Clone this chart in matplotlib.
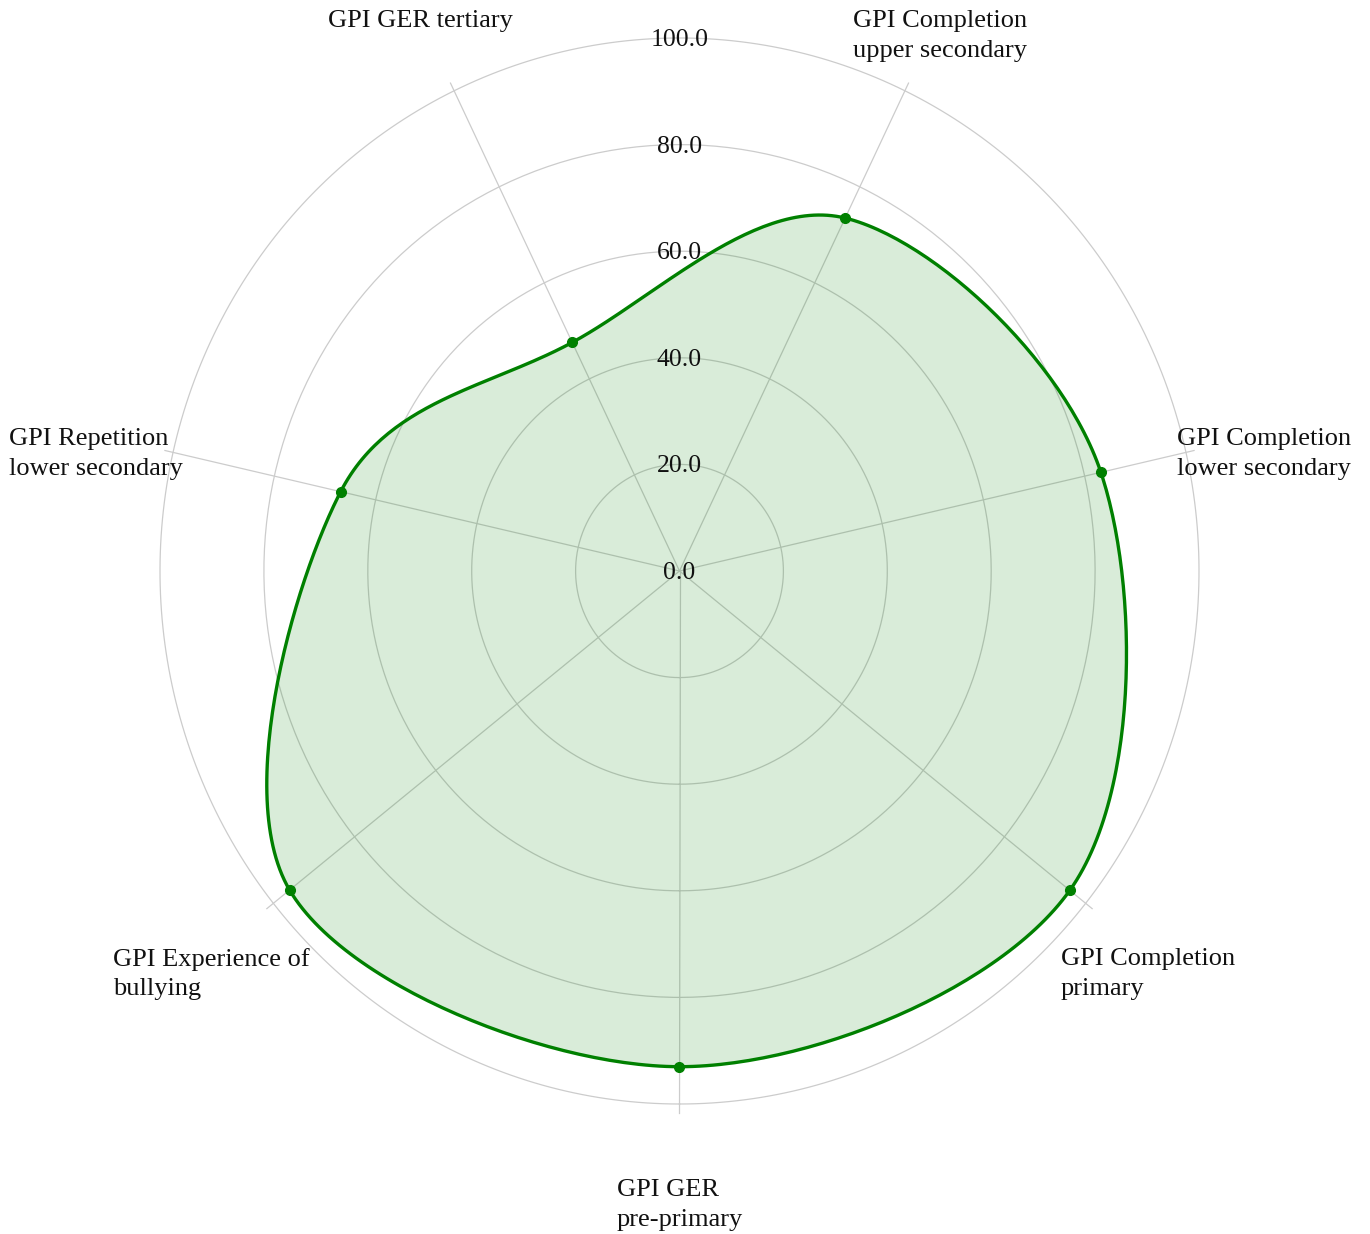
import numpy as np
import matplotlib
matplotlib.use("Agg")
import matplotlib.pyplot as plt
from matplotlib.transforms import offset_copy

# ---- data ----
categories = ["GPI GER\npre-primary", "GPI Completion\nprimary", "GPI Completion\nlower secondary",
              "GPI Completion\nupper secondary", "GPI GER tertiary", "GPI Repetition\nlower secondary",
              "GPI Experience of\nbullying"]
values = [93.0, 96.1, 83.2, 73.5, 47.6, 66.9, 96.0]
rticks = [0, 20, 40, 60, 80, 100]
rtick_labels = ["0.0", "20.0", "40.0", "60.0", "80.0", "100.0"]

# ---- layout (pixel anchors for category labels: left x, centre y) ----
label_pos = [(617, 1205), (1061, 974), (1177, 454), (853, 36), (328, 21), (9, 454), (113, 974)]

W, H = 1370, 1234
fig = plt.figure(figsize=(W / 100, H / 100), dpi=100)
cx, cy, RX, RY = 679.5, 571, 519.5, 533
ax = fig.add_axes([(cx - RX) / W, (H - cy - RY) / H, 2 * RX / W, 2 * RY / H], projection="polar")
ax.set_aspect("auto")
ax.set_theta_zero_location("S")
ax.set_theta_direction(1)
ax.set_ylim(0, 100)
ax.axis("off")

n = len(categories)
angles = np.arange(n) * 2 * np.pi / n

grid_c = "#cccccc"
tt = np.linspace(0, 2 * np.pi, 400)
for r in rticks[1:]:
    ax.plot(tt, np.full_like(tt, r), color=grid_c, lw=0.9, zorder=1, clip_on=False)
for a in angles:
    ax.plot([a, a], [0, 101.6], color=grid_c, lw=0.9, zorder=1, clip_on=False)

# closed cardinal (Catmull-Rom) spline in Cartesian space
px = np.array(values) * np.cos(angles)
py = np.array(values) * np.sin(angles)
P = np.stack([px, py], axis=1)
k = 1.0 / 6.0
seg = []
s = np.linspace(0, 1, 60, endpoint=False)
for i in range(n):
    p0, p1, p2, p3 = P[(i - 1) % n], P[i], P[(i + 1) % n], P[(i + 2) % n]
    c1 = p1 + k * (p2 - p0)
    c2 = p2 - k * (p3 - p1)
    b = ((1 - s) ** 3)[:, None] * p1 + (3 * (1 - s) ** 2 * s)[:, None] * c1 + \
        (3 * (1 - s) * s ** 2)[:, None] * c2 + (s ** 3)[:, None] * p2
    seg.append(b)
curve = np.vstack(seg + [P[:1]])
th = np.unwrap(np.arctan2(curve[:, 1], curve[:, 0]))
rr = np.hypot(curve[:, 0], curve[:, 1])

ax.fill(th, rr, color=(0, 0.5, 0), alpha=0.15, lw=0, zorder=2)
ax.plot(th, rr, color="#008000", lw=2.4, zorder=3)
ax.plot(angles, values, "o", color="#008000", ms=7, zorder=4)

serif = ["Liberation Serif", "DejaVu Serif"]
tick_tr = offset_copy(ax.transData, fig=fig, x=0, y=-2, units="dots")
for r, lab in zip(rticks, rtick_labels):
    ax.text(np.pi, r, lab, ha="center", va="center", fontsize=18.5, family=serif,
            color="#111111", zorder=5, transform=tick_tr)

for lab, (x, y) in zip(categories, label_pos):
    fig.text(x / W, 1 - y / H, lab, ha="left", va="center", fontsize=19, family=serif,
             color="#111111", linespacing=1.43)

fig.savefig("out.png", dpi=100, facecolor="white")
